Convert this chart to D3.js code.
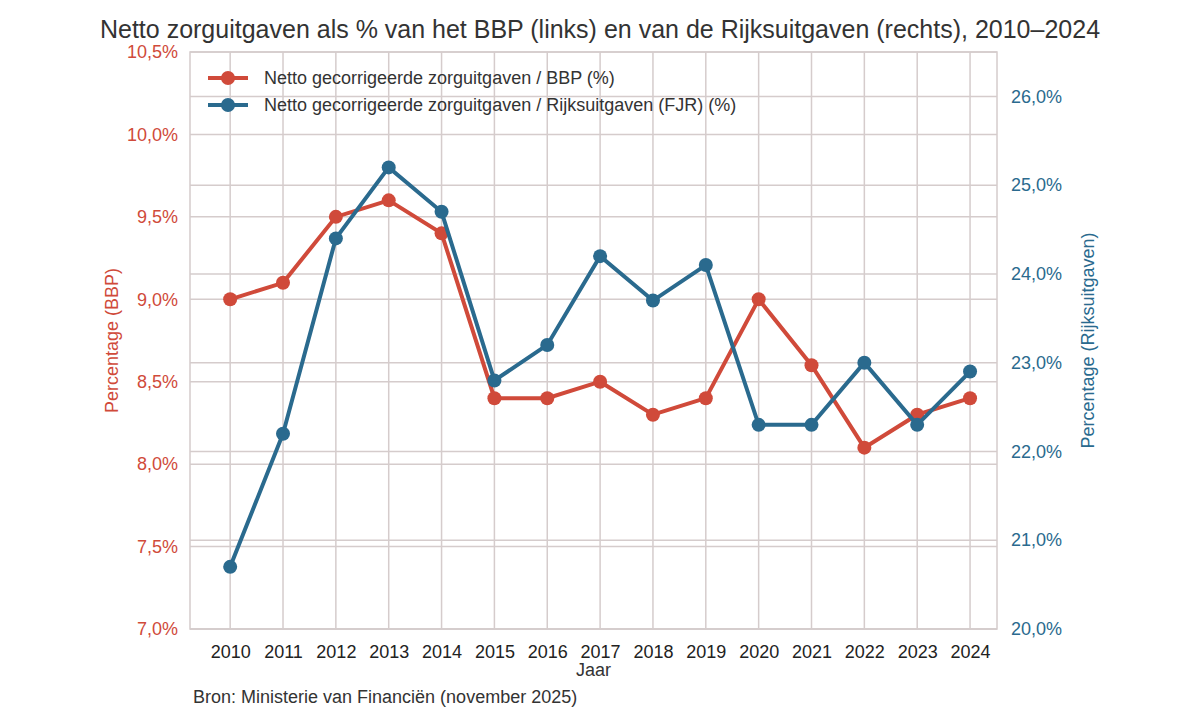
<!DOCTYPE html>
<html><head><meta charset="utf-8">
<script src="https://cdn.jsdelivr.net/npm/d3@7"></script>
<style>body{margin:0;background:#fff;font-family:"Liberation Sans",Arial,sans-serif}</style>
</head><body><div id="vis"></div>
<script>
var years = [2010,2011,2012,2013,2014,2015,2016,2017,2018,2019,2020,2021,2022,2023,2024];
var bbp = [9.0,9.1,9.5,9.6,9.4,8.4,8.4,8.5,8.3,8.4,9.0,8.6,8.1,8.3,8.4];
var rijk = [20.7,22.2,24.4,25.2,24.7,22.8,23.2,24.2,23.7,24.1,22.3,22.3,23.0,22.3,22.9];
var leftTicks = [7.0,7.5,8.0,8.5,9.0,9.5,10.0,10.5];
var rightTicks = [20,21,22,23,24,25,26];
var RED = "#d04a3a", BLUE = "#2a6a8e", GRID = "#d5cccc";

var W = 1200, H = 722, L = 190, R = 997, T = 52, B = 629;
var svg = d3.select("#vis").append("svg").attr("width", W).attr("height", H);
var x = d3.scaleLinear().domain([2009.24, 2024.51]).range([L, R]);
var yl = d3.scaleLinear().domain([7, 10.5]).range([B, T]);
var yr = d3.scaleLinear().domain([20, 26.5]).range([B, T]);
var fmt = function(v, d){ return v.toFixed(d).replace(".", ",") + "%"; };

svg.append("g").selectAll("line").data(years).enter().append("line")
  .attr("x1", d => x(d)).attr("x2", d => x(d)).attr("y1", T).attr("y2", B)
  .attr("stroke", GRID).attr("stroke-width", 1.5);
svg.append("g").selectAll("line").data(leftTicks).enter().append("line")
  .attr("x1", L).attr("x2", R).attr("y1", d => yl(d)).attr("y2", d => yl(d))
  .attr("stroke", GRID).attr("stroke-width", 1.5);
svg.append("g").selectAll("line").data(rightTicks).enter().append("line")
  .attr("x1", L).attr("x2", R).attr("y1", d => yr(d)).attr("y2", d => yr(d))
  .attr("stroke", GRID).attr("stroke-width", 1.5);
svg.append("rect").attr("x", L).attr("y", T).attr("width", R - L).attr("height", B - T)
  .attr("fill", "none").attr("stroke", GRID).attr("stroke-width", 1.5);

var ax = function(g){ g.select(".domain").remove(); g.selectAll("line").remove(); };
svg.append("g").attr("transform", "translate(0," + B + ")")
  .call(d3.axisBottom(x).tickValues(years).tickFormat(d3.format("d")).tickPadding(10)).call(ax)
  .selectAll("text").attr("font-size", 18).attr("fill", "#222").attr("font-family", "Liberation Sans");
svg.append("g").attr("transform", "translate(" + L + ",0)")
  .call(d3.axisLeft(yl).tickValues(leftTicks).tickFormat(d => fmt(d, 1)).tickPadding(6)).call(ax)
  .selectAll("text").attr("font-size", 18).attr("fill", RED).attr("font-family", "Liberation Sans");
svg.append("g").attr("transform", "translate(" + R + ",0)")
  .call(d3.axisRight(yr).tickValues(rightTicks).tickFormat(d => fmt(d, 1)).tickPadding(8)).call(ax)
  .selectAll("text").attr("font-size", 18).attr("fill", BLUE).attr("font-family", "Liberation Sans");

function series(vals, y, col){
  var pts = years.map((d, i) => [x(d), y(vals[i])]);
  svg.append("path").attr("d", d3.line()(pts)).attr("fill", "none")
    .attr("stroke", col).attr("stroke-width", 4);
  svg.append("g").selectAll("circle").data(pts).enter().append("circle")
    .attr("cx", d => d[0]).attr("cy", d => d[1]).attr("r", 7).attr("fill", col);
}
series(bbp, yl, RED);
series(rijk, yr, BLUE);

svg.append("text").attr("x", 600).attr("y", 38).attr("text-anchor", "middle")
  .attr("font-size", 25).attr("fill", "#333")
  .text("Netto zorguitgaven als % van het BBP (links) en van de Rijksuitgaven (rechts), 2010–2024");
svg.append("text").attr("x", (L + R) / 2).attr("y", 676).attr("text-anchor", "middle")
  .attr("font-size", 18).attr("fill", "#333").text("Jaar");
svg.append("text").attr("transform", "translate(118," + ((T + B) / 2) + ") rotate(-90)")
  .attr("text-anchor", "middle").attr("font-size", 18).attr("fill", RED).text("Percentage (BBP)");
svg.append("text").attr("transform", "translate(1094," + ((T + B) / 2) + ") rotate(-90)")
  .attr("text-anchor", "middle").attr("font-size", 18).attr("fill", BLUE).text("Percentage (Rijksuitgaven)");
svg.append("text").attr("x", 193).attr("y", 703).attr("font-size", 18).attr("fill", "#333")
  .text("Bron: Ministerie van Financiën (november 2025)");

var legend = [["Netto gecorrigeerde zorguitgaven / BBP (%)", RED],
              ["Netto gecorrigeerde zorguitgaven / Rijksuitgaven (FJR) (%)", BLUE]];
var lg = svg.append("g").selectAll("g").data(legend).enter().append("g")
  .attr("transform", (d, i) => "translate(208," + (78 + i * 27) + ")");
lg.append("line").attr("x1", 0).attr("x2", 40).attr("stroke", d => d[1]).attr("stroke-width", 4);
lg.append("circle").attr("cx", 20).attr("r", 7).attr("fill", d => d[1]);
lg.append("text").attr("x", 56).attr("dy", "0.35em").attr("font-size", 18).attr("fill", "#333").text(d => d[0]);
</script></body></html>
